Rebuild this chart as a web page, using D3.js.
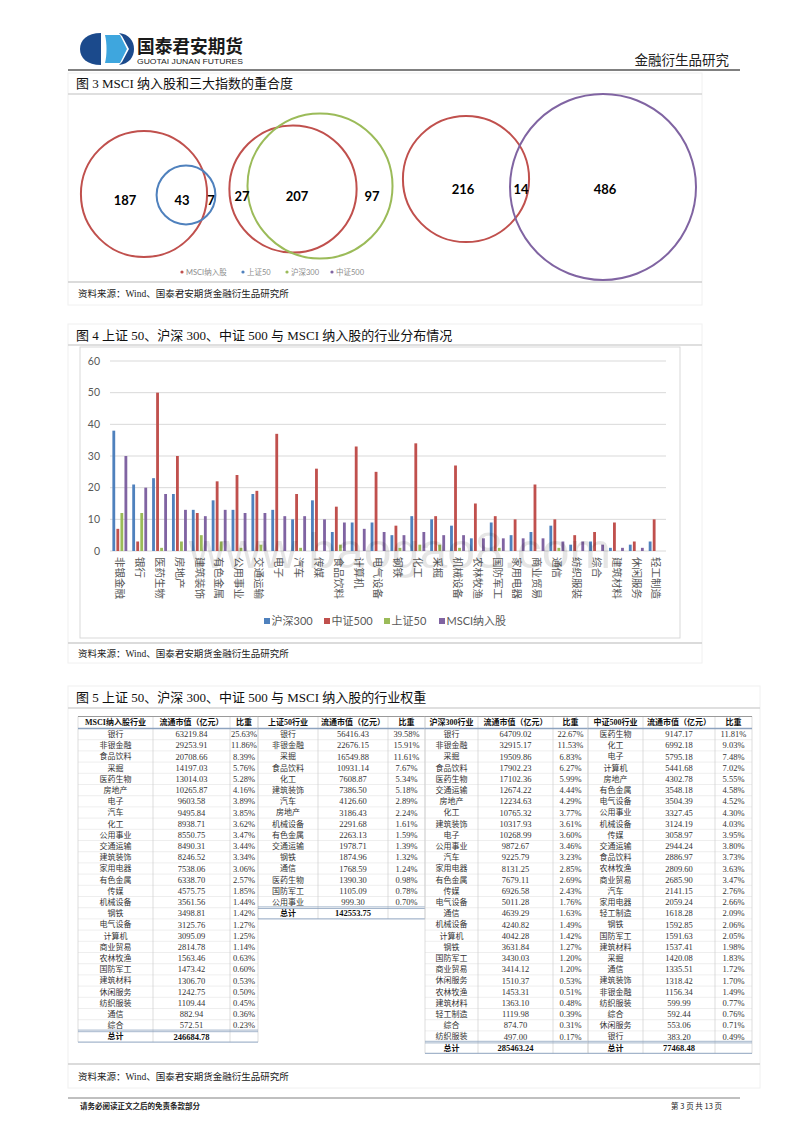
<!DOCTYPE html>
<html><head><meta charset="utf-8">
<script src="https://cdn.jsdelivr.net/npm/d3@7"></script>
<style>
body{margin:0;background:#fff;}
svg{display:block;}
text{font-family:"Liberation Serif","Noto Sans CJK SC",serif;}
</style></head><body>
<svg id="c" width="800" height="1132"></svg>
<script>
// ---------------- DATA ----------------
const vennSets = ["MSCI纳入股", "上证50", "沪深300", "中证500"];
const vennMsciSz50 = [187, 43, 7];     // MSCI only, both, 上证50 only
const vennMsciHs300 = [27, 207, 97];   // MSCI only, both, 沪深300 only
const vennMsciZz500 = [216, 14, 486];  // MSCI only, both, 中证500 only

const industries = ["非银金融","银行","医药生物","房地产","建筑装饰","有色金属","公用事业","交通运输","电子","汽车","传媒","食品饮料","计算机","电气设备","钢铁","化工","采掘","机械设备","农林牧渔","国防军工","家用电器","商业贸易","通信","纺织服装","综合","建筑材料","休闲服务","轻工制造"];
const seriesNames = ["沪深300", "中证500", "上证50", "MSCI纳入股"];
const hs300Count = [38,21,23,18,13,16,13,18,13,10,16,6,9,9,5,11,10,8,4,9,5,6,8,2,3,1,2,3];
const zz500Count = [7,3,50,30,12,22,24,19,37,18,26,14,33,25,8,34,11,27,15,11,10,21,10,5,6,9,3,10];
const sz50Count  = [12,12,1,3,5,3,1,2,0,1,0,2,0,0,1,2,2,1,0,1,0,0,1,0,0,0,0,0];
const msciCount  = [30,20,18,13,11,13,12,12,11,11,10,9,7,6,5,6,5,5,4,4,4,4,3,3,2,1,1,0];
const yTicks = [0,10,20,30,40,50,60];

const msciInd = ["银行","非银金融","食品饮料","采掘","医药生物","房地产","电子","汽车","化工","公用事业","交通运输","建筑装饰","家用电器","有色金属","传媒","机械设备","钢铁","电气设备","计算机","商业贸易","农林牧渔","国防军工","建筑材料","休闲服务","纺织服装","通信","综合"];
const msciVal = [63219.84,29253.91,20708.66,14197.03,13014.03,10265.87,9603.58,9495.84,8938.71,8550.75,8490.31,8246.52,7538.06,6338.70,4575.75,3561.56,3498.81,3125.76,3095.09,2814.78,1563.46,1473.42,1306.70,1242.75,1109.44,882.94,572.51];
const msciPct = [25.63,11.86,8.39,5.76,5.28,4.16,3.89,3.85,3.62,3.47,3.44,3.34,3.06,2.57,1.85,1.44,1.42,1.27,1.25,1.14,0.63,0.60,0.53,0.50,0.45,0.36,0.23];
const msciTotal = 246684.78;

const sz50Ind = ["银行","非银金融","采掘","食品饮料","化工","建筑装饰","汽车","房地产","机械设备","有色金属","交通运输","钢铁","通信","医药生物","国防军工","公用事业"];
const sz50Val = [56416.43,22676.15,16549.88,10931.14,7608.87,7386.50,4126.60,3186.43,2291.68,2263.13,1978.71,1874.96,1768.59,1390.30,1105.09,999.30];
const sz50Pct = [39.58,15.91,11.61,7.67,5.34,5.18,2.89,2.24,1.61,1.59,1.39,1.32,1.24,0.98,0.78,0.70];
const sz50Total = 142553.75;

const hs300Ind = ["银行","非银金融","采掘","食品饮料","医药生物","交通运输","房地产","化工","建筑装饰","电子","公用事业","汽车","家用电器","有色金属","传媒","电气设备","通信","机械设备","计算机","钢铁","国防军工","商业贸易","休闲服务","农林牧渔","建筑材料","轻工制造","综合","纺织服装"];
const hs300Val = [64709.02,32915.17,19509.86,17902.23,17102.36,12674.22,12234.63,10765.32,10317.93,10268.99,9872.67,9225.79,8131.25,7679.11,6926.58,5011.28,4639.29,4240.82,4042.28,3631.84,3430.03,3414.12,1510.37,1453.31,1363.10,1119.98,874.70,497.00];
const hs300Pct = [22.67,11.53,6.83,6.27,5.99,4.44,4.29,3.77,3.61,3.60,3.46,3.23,2.85,2.69,2.43,1.76,1.63,1.49,1.42,1.27,1.20,1.20,0.53,0.51,0.48,0.39,0.31,0.17];
const hs300Total = 285463.24;

const zz500Ind = ["医药生物","化工","电子","计算机","房地产","有色金属","电气设备","公用事业","机械设备","传媒","交通运输","食品饮料","农林牧渔","商业贸易","汽车","家用电器","轻工制造","钢铁","国防军工","建筑材料","采掘","通信","建筑装饰","非银金融","纺织服装","综合","休闲服务","银行"];
const zz500Val = [9147.17,6992.18,5795.18,5441.68,4302.78,3548.18,3504.39,3327.45,3124.19,3058.97,2944.24,2886.97,2809.60,2685.90,2141.15,2059.24,1618.28,1592.85,1591.63,1537.41,1420.08,1335.51,1318.42,1156.34,599.99,592.44,553.06,383.20];
const zz500Pct = [11.81,9.03,7.48,7.02,5.55,4.58,4.52,4.30,4.03,3.95,3.80,3.73,3.63,3.47,2.76,2.66,2.09,2.06,2.05,1.98,1.83,1.72,1.70,1.49,0.77,0.76,0.71,0.49];
const zz500Total = 77468.48;

// ---------------- DRAW ----------------
const svg = d3.select("#c");
svg.append("rect").attr("width",800).attr("height",1132).attr("fill","#fff");
const CJK = '"Noto Sans CJK SC", sans-serif';
const SANS = 'Lato, "Noto Sans CJK SC", sans-serif';

// header
const hdr = svg.append("g");
hdr.append("path").attr("d","M101,33 C87,33 80,40 80,49 C80,58 87,65 101,65 Z").attr("fill","#1b4a8c");
hdr.append("path").attr("d","M105,35 L120,35 L127,49 L120,63 L105,63 C107,55 107,43 105,35 Z").attr("fill","#3ea6de");
hdr.append("path").attr("d","M119,33 C129,34 134,41 134,49 C134,57 129,64 119,65 L122,62 L129,49 L122,36 Z").attr("fill","#1b4a8c");
hdr.append("text").attr("x",137).attr("y",53).attr("font-size",18).attr("font-weight",700)
  .style("font-family",CJK).attr("fill","#1a1a1a").attr("textLength",106).attr("lengthAdjust","spacingAndGlyphs").text("国泰君安期货");
hdr.append("text").attr("x",137).attr("y",64).attr("font-size",8)
  .style("font-family",'"Liberation Sans", sans-serif').attr("fill","#222").attr("textLength",106).attr("lengthAdjust","spacingAndGlyphs").text("GUOTAI JUNAN FUTURES");
hdr.append("text").attr("x",729).attr("y",65).attr("text-anchor","end").attr("font-size",13.5).attr("fill","#222").text("金融衍生品研究");
hdr.append("line").attr("x1",68).attr("x2",740).attr("y1",70).attr("y2",70).attr("stroke","#808080").attr("stroke-width",2);

function figFrame(x0, x1, top, titleY, lineY, srcLineY, srcY, bottom, title) {
  const g = svg.append("g");
  g.append("rect").attr("x",x0).attr("y",top).attr("width",x1-x0).attr("height",bottom-top)
    .attr("fill","none").attr("stroke","#f0f0f0");
  g.append("text").attr("x",76).attr("y",titleY).attr("font-size",13).attr("fill","#111").text(title);
  g.append("line").attr("x1",x0).attr("x2",x1).attr("y1",lineY).attr("y2",lineY).attr("stroke","#d4d4d4").attr("stroke-width",1.5);
  g.append("line").attr("x1",x0).attr("x2",x1).attr("y1",srcLineY).attr("y2",srcLineY).attr("stroke","#cfcfcf").attr("stroke-width",1.5);
  g.append("text").attr("x",78).attr("y",srcY).attr("font-size",9.5).attr("fill","#222").text("资料来源：Wind、国泰君安期货金融衍生品研究所");
}
figFrame(68,702,73,88,94,282,297,305,"图 3 MSCI 纳入股和三大指数的重合度");
figFrame(68,702,324,340,345,643,657,663,"图 4 上证 50、沪深 300、中证 500 与 MSCI 纳入股的行业分布情况");
figFrame(68,760,686,702,708,1064,1080,1088,"图 5 上证 50、沪深 300、中证 500 与 MSCI 纳入股的行业权重");

// ---------- Figure 3: Venn ----------
const vColors = d3.scaleOrdinal().domain(vennSets).range(["#c0504d","#4f81bd","#9bbb59","#8064a2"]);
const rScale = d3.scaleSqrt().domain([0,500]).range([0,93]);
const vennLayout = [
  {counts: vennMsciSz50, other: "上证50", c1:[144,194], c2:[186,195], lx:[125,182,211], ly:200},
  {counts: vennMsciHs300, other: "沪深300", c1:[293,189], c2:[320,186], lx:[242,297,372], ly:196},
  {counts: vennMsciZz500, other: "中证500", c1:[466,179], c2:[603,187], lx:[463,521,605], ly:189}
];
const vg = svg.append("g");
vennLayout.forEach(d => {
  const rA = rScale(d.counts[0]+d.counts[1]);
  const rB = rScale(d.counts[1]+d.counts[2]);
  vg.append("circle").attr("cx",d.c1[0]).attr("cy",d.c1[1]).attr("r",rA)
    .attr("fill","none").attr("stroke",vColors("MSCI纳入股")).attr("stroke-width",2);
  vg.append("circle").attr("cx",d.c2[0]).attr("cy",d.c2[1]).attr("r",rB)
    .attr("fill","none").attr("stroke",vColors(d.other)).attr("stroke-width",2);
  d.counts.forEach((c,i) => {
    vg.append("text").attr("x",d.lx[i]).attr("y",d.ly).attr("dy","0.35em").attr("text-anchor","middle")
      .attr("font-size",13).attr("font-weight",700).style("font-family",SANS).attr("fill","#000").text(c);
  });
});
const vLegX = [182,243,287,332];
vennSets.forEach((s,i) => {
  vg.append("circle").attr("cx",vLegX[i]).attr("cy",272).attr("r",1.6).attr("fill",vColors(s));
  vg.append("text").attr("x",vLegX[i]+4).attr("y",272).attr("dy","0.35em").attr("font-size",7.5)
    .style("font-family",SANS).attr("fill","#8c8c8c").text(s);
});

// ---------- Figure 4: bars ----------
const bg = svg.append("g");
bg.append("rect").attr("x",80).attr("y",347).attr("width",600).attr("height",291).attr("fill","none").attr("stroke","#d9d9d9");
const x0 = d3.scaleBand().domain(industries).range([110,666]).paddingInner(0.25).paddingOuter(0.12);
const x1 = d3.scaleBand().domain(seriesNames).range([0,x0.bandwidth()]).paddingInner(0.3);
const y = d3.scaleLinear().domain([0,60]).range([551,361]);
const bColors = d3.scaleOrdinal().domain(seriesNames).range(["#4f81bd","#c0504d","#9bbb59","#8064a2"]);
const seriesData = [hs300Count, zz500Count, sz50Count, msciCount];

bg.append("g").selectAll("line").data(yTicks).join("line")
  .attr("x1",110).attr("x2",666).attr("y1",d=>y(d)).attr("y2",d=>y(d))
  .attr("stroke","#d9d9d9").attr("stroke-width",1);
bg.append("g").selectAll("text").data(yTicks).join("text")
  .attr("x",100).attr("y",d=>y(d)).attr("dy","0.35em").attr("text-anchor","end")
  .attr("font-size",10.5).style("font-family",SANS).attr("fill","#595959").text(d=>d);

seriesNames.forEach((s,si) => {
  bg.append("g").selectAll("rect").data(industries).join("rect")
    .attr("x",(d)=>x0(d)+x1(s)).attr("width",x1.bandwidth())
    .attr("y",(d,i)=>y(seriesData[si][i])).attr("height",(d,i)=>y(0)-y(seriesData[si][i]))
    .attr("fill",bColors(s));
});
bg.append("g").selectAll("text").data(industries).join("text")
  .attr("transform",d=>`translate(${x0(d)+x0.bandwidth()/2},557) rotate(90)`)
  .attr("dy","0.35em").attr("font-size",10.5).style("font-family",CJK).attr("fill","#595959").text(d=>d);

// watermark
bg.append("text").attr("x",400).attr("y",568).attr("text-anchor","middle").attr("font-size",50)
  .style("font-family",'"Liberation Sans", sans-serif').attr("fill","#000").attr("fill-opacity",0.1).text("www.baogao8.com");

const legX = [264,324,384,439];
seriesNames.forEach((s,i) => {
  bg.append("rect").attr("x",legX[i]).attr("y",618).attr("width",6).attr("height",6).attr("fill",bColors(s));
  bg.append("text").attr("x",legX[i]+7.5).attr("y",621).attr("dy","0.35em").attr("font-size",11)
    .style("font-family",SANS).attr("fill","#595959").text(s);
});

// ---------- Figure 5: tables ----------
const fmtV = d3.format(".2f");
const fmtP = d => d3.format(".2f")(d) + "%";
const rowTop = 728.5, rowH = 11.2, headTop = 716.5;
function drawTable(cols, header, names, vals, pcts, total) {
  const g = svg.append("g");
  const n = names.length;
  const yRow = d3.scaleLinear().domain([0,1]).range([rowTop, rowTop+rowH]);
  const bottom = yRow(n+1);
  g.append("g").selectAll("line").data(d3.range(1,n)).join("line")
    .attr("x1",cols[0]).attr("x2",cols[3]).attr("y1",d=>yRow(d)).attr("y2",d=>yRow(d))
    .attr("stroke","#e3e3e3").attr("stroke-width",0.6);
  g.append("g").selectAll("line").data(cols).join("line")
    .attr("x1",d=>d).attr("x2",d=>d).attr("y1",headTop).attr("y2",bottom)
    .attr("stroke","#cfcfcf").attr("stroke-width",0.7);
  g.append("line").attr("x1",cols[0]).attr("x2",cols[3]).attr("y1",headTop).attr("y2",headTop).attr("stroke","#9a9a9a").attr("stroke-width",1);
  g.append("line").attr("x1",cols[0]).attr("x2",cols[3]).attr("y1",rowTop).attr("y2",rowTop).attr("stroke","#8ea3bf").attr("stroke-width",1.5);
  g.append("line").attr("x1",cols[0]).attr("x2",cols[3]).attr("y1",yRow(n)-0.8).attr("y2",yRow(n)-0.8).attr("stroke","#8ea3bf").attr("stroke-width",0.8);
  g.append("line").attr("x1",cols[0]).attr("x2",cols[3]).attr("y1",yRow(n)+0.8).attr("y2",yRow(n)+0.8).attr("stroke","#8ea3bf").attr("stroke-width",0.8);
  g.append("line").attr("x1",cols[0]).attr("x2",cols[3]).attr("y1",bottom).attr("y2",bottom).attr("stroke","#8ea3bf").attr("stroke-width",1);
  const cx = [0,1,2].map(i => (cols[i]+cols[i+1])/2);
  header.forEach((h,i) => {
    g.append("text").attr("x",cx[i]).attr("y",(headTop+rowTop)/2).attr("dy","0.36em").attr("text-anchor","middle")
      .attr("font-size",8).attr("font-weight",700).attr("fill","#111").text(h);
  });
  const rows = g.append("g").selectAll("g").data(names).join("g");
  rows.append("text").attr("x",cx[0]).attr("y",(d,i)=>yRow(i+0.5)).attr("dy","0.36em").attr("text-anchor","middle")
    .attr("font-size",8).attr("fill","#333").text(d=>d);
  rows.append("text").attr("x",cx[1]).attr("y",(d,i)=>yRow(i+0.5)).attr("dy","0.36em").attr("text-anchor","middle")
    .attr("font-size",8.5).attr("fill","#333").text((d,i)=>fmtV(vals[i]));
  rows.append("text").attr("x",cx[2]).attr("y",(d,i)=>yRow(i+0.5)).attr("dy","0.36em").attr("text-anchor","middle")
    .attr("font-size",8.5).attr("fill","#333").text((d,i)=>fmtP(pcts[i]));
  g.append("text").attr("x",cx[0]).attr("y",yRow(n+0.5)).attr("dy","0.36em").attr("text-anchor","middle")
    .attr("font-size",8).attr("font-weight",700).attr("fill","#111").text("总计");
  g.append("text").attr("x",cx[1]).attr("y",yRow(n+0.5)).attr("dy","0.36em").attr("text-anchor","middle")
    .attr("font-size",8.5).attr("font-weight",700).attr("fill","#111").text(fmtV(total));
}
drawTable([78,153,230,258],["MSCI纳入股行业","流通市值（亿元）","比重"],msciInd,msciVal,msciPct,msciTotal);
drawTable([258,318,388,425],["上证50行业","流通市值（亿元）","比重"],sz50Ind,sz50Val,sz50Pct,sz50Total);
drawTable([425,478,553,588],["沪深300行业","流通市值（亿元）","比重"],hs300Ind,hs300Val,hs300Pct,hs300Total);
drawTable([588,643,715,752],["中证500行业","流通市值（亿元）","比重"],zz500Ind,zz500Val,zz500Pct,zz500Total);

// footer
svg.append("line").attr("x1",68).attr("x2",740).attr("y1",1098).attr("y2",1098).attr("stroke","#808080").attr("stroke-width",1);
svg.append("text").attr("x",80).attr("y",1109).attr("font-size",7.5).attr("font-weight",700).style("font-family",CJK).attr("fill","#222").text("请务必阅读正文之后的免责条款部分");
svg.append("text").attr("x",722).attr("y",1109).attr("text-anchor","end").attr("font-size",7.5).style("font-family",CJK).attr("fill","#222").text("第 3 页 共 13 页");
</script>
</body></html>
